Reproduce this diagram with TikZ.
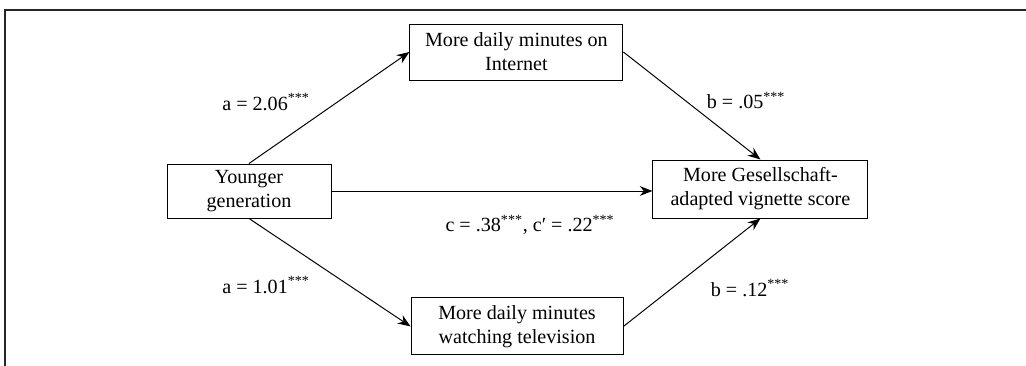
\documentclass[tikz,border=0pt]{standalone}
\usepackage{fontspec}
\setmainfont{Liberation Serif}
\usetikzlibrary{positioning}
\usetikzlibrary{arrows.meta}

\begin{document}
\begin{tikzpicture}[
  varbox/.style={draw,line width=0.7pt,rectangle,align=center,inner sep=0pt,font=\fontsize{14.3}{17}\selectfont},
  path/.style={line width=0.7pt,-{Stealth[length=9pt,width=7pt]}},
  coef/.style={font=\fontsize{14.3}{17}\selectfont}]
\useasboundingbox (0,0) rectangle (25.65,9.15);
\draw[black!85,line width=1.4pt] (0.125,0) -- (0.125,8.9) -- (25.65,8.9);

\node[varbox,minimum width=4.1cm,minimum height=1.35cm] (young) at (6.225,4.375) {Younger\\generation};
\node[varbox,minimum width=5.325cm,minimum height=1.4cm] (inet) at (12.91,7.85) {More daily minutes on\\Internet};
\node[varbox,minimum width=5.3cm,minimum height=1.425cm] (tv) at (12.925,0.99) {More daily minutes\\watching television};
\node[varbox,minimum width=5.375cm,minimum height=1.45cm] (score) at (19.01,4.425) {More Gesellschaft-\\adapted vignette score};

\draw[path] (young.north) -- (inet.west);
\draw[path] (inet.east) -- (score.north);
\draw[path] (young.east) -- (young.east -| score.west);
\draw[path] (young.south) -- (tv.west);
\draw[path] (tv.east) -- (score.south);

\node[coef] (a1) at (6.65,6.6) {a = 2.06\textsuperscript{***}};
\node[coef] (b1) at (18.65,6.63) {b = .05\textsuperscript{***}};
\node[coef] (c) at (13.25,3.525) {c = .38\textsuperscript{***}, c′ = .22\textsuperscript{***}};
\node[coef] (a2) at (6.65,2.025) {a = 1.01\textsuperscript{***}};
\node[coef] (b2) at (18.75,1.95) {b = .12\textsuperscript{***}};

\end{tikzpicture}
\end{document}
